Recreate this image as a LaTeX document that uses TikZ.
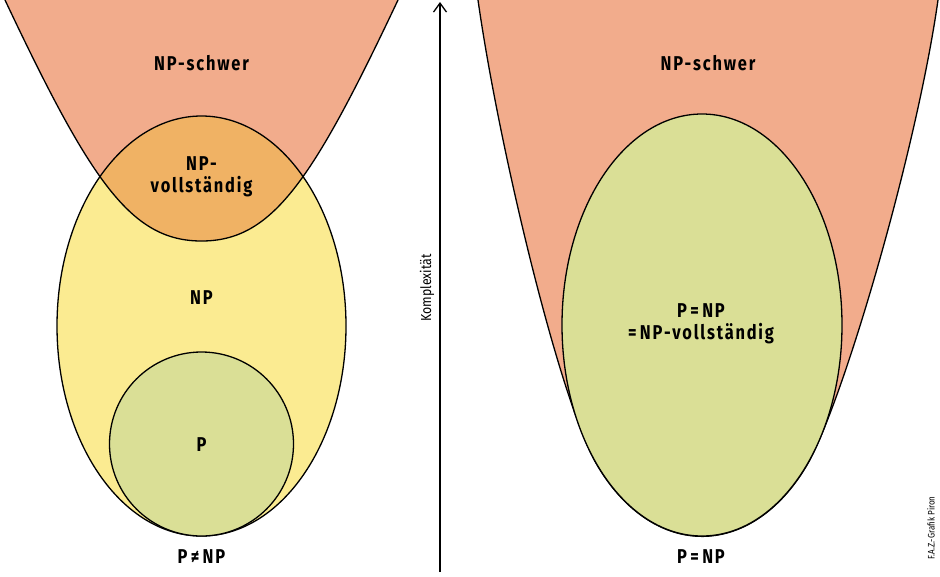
\documentclass[tikz,border=0pt]{standalone}
\usepackage{fontspec}
\setmainfont{Fira Sans}[FakeStretch=0.85]
\newfontfamily\lblfont{Fira Sans}[FakeStretch=0.82, LetterSpace=9]
\usetikzlibrary{arrows.meta,calc}
\definecolor{schwer}{HTML}{F2AC8C}
\definecolor{voll}{HTML}{F0B264}
\definecolor{npcol}{HTML}{FBEB91}
\definecolor{pcol}{HTML}{DADF96}
\tikzset{
  lbl/.style={font=\lblfont\bfseries\fontsize{20}{22}\selectfont, align=center, inner sep=0pt},
  outline/.style={draw=black, line width=1.3pt},
}
\begin{document}
\begin{tikzpicture}[x=1pt,y=-1pt]
\useasboundingbox (0,0) rectangle (940,576);
% ---------- left figure ----------
\def\LParab{(5,0) .. controls (91,182) and (131,241) .. (201.5,241) .. controls (272,241) and (312,182) .. (398,0)}
\fill[schwer] \LParab -- cycle;
\fill[npcol] (201.5,326) ellipse [x radius=144.5, y radius=210];
\begin{scope}
  \clip (201.5,326) ellipse [x radius=144.5, y radius=210];
  \fill[voll] \LParab -- cycle;
\end{scope}
\draw[outline] \LParab;
\draw[outline] (201.5,326) ellipse [x radius=144.5, y radius=210];
\filldraw[outline, fill=pcol] (201.5,444) circle [radius=92];
\node[lbl] (nps1) at (201.5,63) {NP-schwer};
\node[lbl] (npv) at (201.5,177) {NP-\\vollständig};
\node[lbl] (np) at (201.5,298) {NP};
\node[lbl] (p) at (201.5,445) {P};
\node[lbl] (pneq) at (201.5,557) {P\,≠\,NP};
% ---------- axis ----------
\coordinate (ab) at (440,572);
\coordinate (at) at (440,2);
\draw[line width=1.3pt, -{Straight Barb[length=9pt,width=13pt,line width=1.3pt]}] (ab) -- (at);
\node[rotate=90, font=\fontsize{14.5}{16}\selectfont, inner sep=0pt] (komp) at (427,288) {Komplexität};
% ---------- right figure ----------
\coordinate (r0) at (478,0);
\coordinate (r1) at (499,148);
\coordinate (r2) at (558,392);
\coordinate (rt1) at (594.8,461);
\coordinate (s2) at (846,392);
\coordinate (s1) at (917,148);
\coordinate (s0) at (938,0);
\def\RParab{(r0) .. controls (r1) and (r2) .. (rt1) arc [start angle=140, end angle=40, x radius=140, y radius=211] .. controls (s2) and (s1) .. (s0)}
\fill[schwer] \RParab -- cycle;
\draw[outline] \RParab;
\filldraw[outline, fill=pcol] (702,325) ellipse [x radius=140, y radius=211];
\node[lbl] (nps2) at (708,63) {NP-schwer};
\node[lbl] (pnp) at (701,324) {P\,=\,NP\\=\,NP-vollständig};
\node[lbl] (pnp2) at (701,557) {P\,=\,NP};
\node[rotate=90, font=\fontsize{9.5}{11}\selectfont, inner sep=0pt] (credit) at (931,528) {F.A.Z.-Grafik Piron};
\end{tikzpicture}
\end{document}
